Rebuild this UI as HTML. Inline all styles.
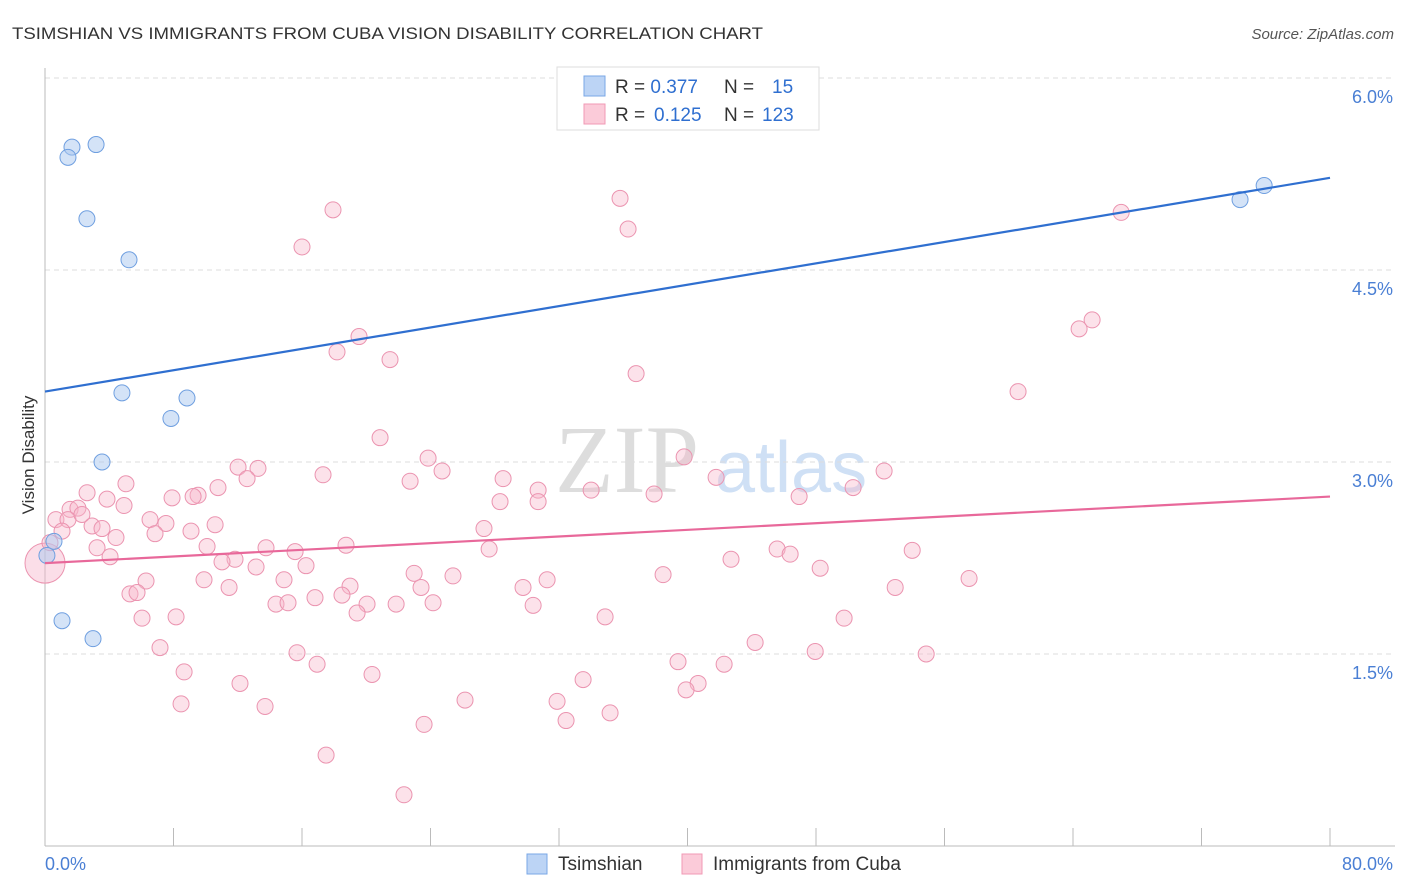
<!DOCTYPE html>
<html><head><meta charset="utf-8"><style>
body{margin:0;width:1406px;height:892px;background:#fff;font-family:"Liberation Sans",sans-serif;overflow:hidden}
svg{position:absolute;left:0;top:0}
</style></head><body>
<svg width="1406" height="892">
<text x="12" y="39" font-size="17" fill="#333" textLength="751" lengthAdjust="spacingAndGlyphs">TSIMSHIAN VS IMMIGRANTS FROM CUBA VISION DISABILITY CORRELATION CHART</text>
<text x="1394" y="39" font-size="15" fill="#555" font-style="italic" text-anchor="end">Source: ZipAtlas.com</text>
<text x="555" y="492" font-size="96" fill="#ddd" font-family="Liberation Serif,serif">ZIP</text>
<text x="715" y="492" font-size="72" fill="#cfe0f5">atlas</text>
<g id="grid"></g>
<line x1="45" y1="68" x2="45" y2="846" stroke="#bbb"/>
<line x1="45" y1="846" x2="1395" y2="846" stroke="#bbb"/>
<g id="xticks"></g>
<text x="34" y="455" font-size="17" fill="#333" text-anchor="middle" transform="rotate(-90 34 455)">Vision Disability</text>
<text x="45" y="870" font-size="18" fill="#4a7fd4">0.0%</text>
<text x="1393" y="870" font-size="18" fill="#4a7fd4" text-anchor="end">80.0%</text>
<g id="pts"></g>
<g id="trends"></g>
<g>
<rect x="557" y="67" width="262" height="63" fill="#fff" stroke="#ddd"/>
<rect x="584" y="76" width="21" height="20" fill="#bcd4f5" stroke="#7aa7e6"/>
<rect x="584" y="104" width="21" height="20" fill="#fbcbd9" stroke="#f09ab5"/>
<text x="615" y="93" font-size="19" fill="#333">R = <tspan fill="#2f6fd0">0.377</tspan><tspan x="724">N = </tspan><tspan x="772" fill="#2f6fd0">15</tspan></text>
<text x="615" y="121" font-size="19" fill="#333">R = <tspan x="654" fill="#2f6fd0">0.125</tspan><tspan x="724">N = </tspan><tspan x="762" fill="#2f6fd0">123</tspan></text>
</g>
<g>
<rect x="527" y="854" width="20" height="20" fill="#bcd4f5" stroke="#7aa7e6"/>
<text x="558" y="870" font-size="19" fill="#333">Tsimshian</text>
<rect x="682" y="854" width="20" height="20" fill="#fbcbd9" stroke="#f09ab5"/>
<text x="713" y="870" font-size="19" fill="#333">Immigrants from Cuba</text>
</g>
</svg>
<script>
const yTicks=[1.5,3.0,4.5,6.0];
const xTickVals=[0,8,16,24,32,40,48,56,64,72,80];
const blueX=[1.68,1.43,3.18,2.61,5.23,4.79,8.84,7.84,3.55,0.56,1.06,2.99,74.4,75.9,0.12];
const blueY=[5.46,5.38,5.48,4.90,4.58,3.54,3.50,3.34,3.00,2.38,1.76,1.62,5.05,5.16,2.27];
const pinkX=[17.93,16.00,35.80,36.30,67.00,64.38,65.19,19.55,18.18,21.48,36.80,60.58,20.86,23.85,24.72,12.02,13.26,12.58,17.31,28.52,22.73,30.70,30.70,28.33,34.00,37.92,39.79,41.78,46.95,50.31,52.24,5.04,2.62,3.86,4.92,7.91,9.53,9.22,10.77,1.56,2.05,0.68,1.43,2.30,6.54,7.53,1.06,2.93,3.55,6.85,9.09,10.59,4.42,3.24,4.05,10.09,11.83,13.76,15.57,18.74,27.33,27.65,0.31,11.02,13.14,16.25,6.29,9.90,11.46,14.88,18.99,22.98,23.41,25.40,29.76,31.26,38.48,42.71,45.58,46.39,48.26,53.99,57.53,52.93,5.29,5.73,14.38,15.13,16.81,18.49,20.05,19.43,21.86,24.16,30.39,34.87,6.04,8.16,49.75,7.16,15.69,16.94,8.66,20.36,44.21,47.95,54.86,39.41,42.28,12.14,33.50,40.66,39.91,8.47,13.70,26.15,31.88,35.18,32.44,23.60,17.50,22.35];
const pinkY=[4.97,4.68,5.06,4.82,4.95,4.04,4.11,3.98,3.86,3.80,3.69,3.55,3.19,3.03,2.93,2.96,2.95,2.87,2.90,2.87,2.85,2.78,2.69,2.69,2.78,2.75,3.04,2.88,2.73,2.80,2.93,2.83,2.76,2.71,2.66,2.72,2.74,2.73,2.80,2.63,2.64,2.55,2.55,2.59,2.55,2.52,2.46,2.50,2.48,2.44,2.46,2.51,2.41,2.33,2.26,2.34,2.24,2.33,2.30,2.35,2.48,2.32,2.37,2.22,2.18,2.19,2.07,2.08,2.02,2.08,2.03,2.13,2.02,2.11,2.02,2.08,2.12,2.24,2.32,2.28,2.17,2.31,2.09,2.02,1.97,1.98,1.89,1.90,1.94,1.96,1.89,1.82,1.89,1.90,1.88,1.79,1.78,1.79,1.78,1.55,1.51,1.42,1.36,1.34,1.59,1.52,1.50,1.44,1.42,1.27,1.30,1.27,1.22,1.11,1.09,1.14,1.13,1.04,0.98,0.95,0.71,0.40];
const pinkBig=[0.0,2.21];
const blueTrend=[3.55,5.22];
const pinkTrend=[2.21,2.73];
const NS='http://www.w3.org/2000/svg';
const xs=v=>45+v/80*1285;
const ys=v=>846-v*128;
function mk(tag,attrs,parent){const e=document.createElementNS(NS,tag);for(const k in attrs)e.setAttribute(k,attrs[k]);parent.appendChild(e);return e;}
const grid=document.getElementById('grid');
yTicks.forEach(t=>{
 const l=mk('line',{x1:45,x2:1395,y1:ys(t),y2:ys(t),stroke:'#ddd','stroke-dasharray':'5,4'},grid);
 
 
 const tx=mk('text',{x:1393,y:ys(t)+25,'font-size':18,fill:'#4a7fd4','text-anchor':'end'},grid);
 tx.textContent=t.toFixed(1)+'%';
 
 
});
const xt=document.getElementById('xticks');
xTickVals.forEach(t=>{
 const l=mk('line',{x1:xs(t),x2:xs(t),y1:828,y2:846,stroke:'#bbb'},xt);
 
 
});
const pts=document.getElementById('pts');
const big=mk('circle',{cx:xs(pinkBig[0]),cy:ys(pinkBig[1]),r:20,fill:'#f7b6cb','fill-opacity':0.45,stroke:'#eb94b0'},pts);


pinkX.forEach((v,i)=>{
 const c=mk('circle',{cx:xs(v),cy:ys(pinkY[i]),r:8,fill:'#f7b6cb','fill-opacity':0.4,stroke:'#eb94b0','stroke-width':1},pts);
 
 
});
blueX.forEach((v,i)=>{
 const c=mk('circle',{cx:xs(v),cy:ys(blueY[i]),r:8,fill:'#a9c8f0','fill-opacity':0.5,stroke:'#6f9fe0','stroke-width':1},pts);
 
 
});
const tr=document.getElementById('trends');
const bl=mk('line',{x1:xs(0),y1:ys(blueTrend[0]),x2:xs(80),y2:ys(blueTrend[1]),stroke:'#2f6fd0','stroke-width':2.2},tr);


const pl=mk('line',{x1:xs(0),y1:ys(pinkTrend[0]),x2:xs(80),y2:ys(pinkTrend[1]),stroke:'#e8689a','stroke-width':2.2},tr);


</script>
</body></html>
